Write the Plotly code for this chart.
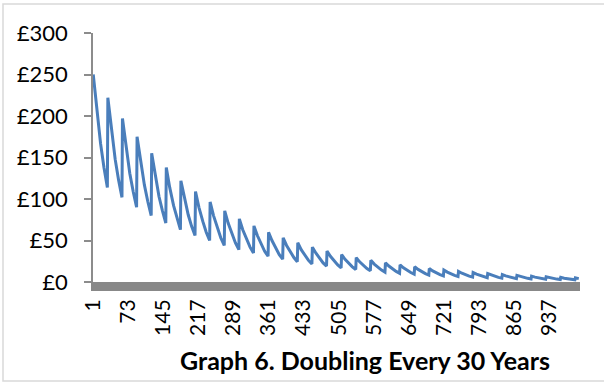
import plotly.graph_objects as go

# Values, one entry per 30-year cycle
# (peak just after each doubling, quarter, middle, three-quarter, trough)
cycle_peak = [250, 222, 197, 175, 155, 138, 122, 109, 96.5, 85.7, 76.1, 67.6,
              60, 53.3, 47.3, 42, 37.3, 33.1, 29.4, 26.1, 23.2, 20.6, 18.3,
              16.2, 14.4, 12.8, 11.4, 10.1, 9, 8, 7.1, 6.3, 5.6, 5.0]
cycle_q1 = [207, 184, 163, 145, 128, 114, 101, 90, 80, 71, 63, 56, 50, 44,
            39, 35, 31, 27.4, 24.3, 21.6, 19.2, 17, 15.2, 13.4, 11.9, 10.6,
            9.4, 8.4, 7.4, 6.6, 5.9, 5.2, 4.6, 4.1]
cycle_mid = [167, 148, 131, 117, 103, 92, 81, 73, 64, 57, 51, 45, 40, 35.5,
             31.5, 28, 25, 22, 19.6, 17.4, 15.5, 13.7, 12.2, 10.8, 9.6, 8.5,
             7.6, 6.7, 6, 5.3, 4.7, 4.2, 3.7, None]
cycle_q3 = [138, 123, 109, 97, 86, 76, 67, 60, 53, 47, 42, 37, 33, 29.5, 26,
            23, 20.6, 18.3, 16.2, 14.4, 12.8, 11.4, 10.1, 9, 8, 7.1, 6.3,
            5.6, 5, 4.4, 3.9, 3.5, 3.1, None]
cycle_trough = [114, 102, 90, 80, 71, 63, 56, 50, 44, 39, 35, 31, 27.5, 24.4,
                21.6, 19.2, 17, 15.1, 13.5, 11.9, 10.6, 9.4, 8.4, 7.4, 6.6,
                5.9, 5.2, 4.6, 4.1, 3.7, 3.2, 2.9, 2.6, None]

period = 30          # years between doublings
n_years = 1000       # number of categories (years 1..1000)
offsets = [0, 7, 15, 22, 29]   # position of each read value inside a cycle

tick_labels = ["1", "73", "145", "217", "289", "361", "433", "505", "577",
               "649", "721", "793", "865", "937"]
title_text = "Graph 6. Doubling Every 30 Years"

xs, ys = [], []
for k, vals in enumerate(zip(cycle_peak, cycle_q1, cycle_mid, cycle_q3, cycle_trough)):
    for off, v in zip(offsets, vals):
        x = 1 + k * period + off
        if v is not None and x <= n_years:
            xs.append(x)
            ys.append(v)

fig = go.Figure()
fig.add_trace(go.Scatter(x=xs, y=ys, mode="lines",
                         line=dict(color="#4a7ebb", width=3),
                         hoverinfo="skip", showlegend=False))

font_family = "Lato, Noto Sans, sans-serif"

fig.update_layout(
    width=604, height=383,
    margin=dict(l=93, r=24, t=33, b=101),
    paper_bgcolor="white", plot_bgcolor="white",
    font=dict(family=font_family, size=22, color="black"),
    xaxis=dict(range=[0.5, n_years + 0.5],
               tickvals=[int(t) for t in tick_labels], ticktext=tick_labels,
               tickangle=-90, showgrid=False, zeroline=False,
               showline=True, linecolor="#888888", linewidth=9,
               ticks="", tickfont=dict(size=21)),
    yaxis=dict(range=[0, 300], dtick=50, tickprefix="£",
               showgrid=False, zeroline=False,
               showline=True, linecolor="#8c8c8c", linewidth=1.5,
               ticks="outside", ticklen=7, tickcolor="#8c8c8c", tickwidth=1.5,
               ticklabelstandoff=12,
               tickfont=dict(size=22)),
)

fig.add_annotation(text="<b>" + title_text + "</b>", xref="paper", yref="paper",
                   x=0.5585, y=-0.313, xanchor="center", yanchor="middle",
                   showarrow=False, font=dict(size=25, family=font_family))

fig.add_shape(type="rect", xref="paper", yref="paper",
              x0=-0.1848, x1=1.06, y0=-0.3976, y1=1.1165,
              line=dict(color="#d9d9d9", width=1.5), layer="below")

fig.write_html("out.html")
